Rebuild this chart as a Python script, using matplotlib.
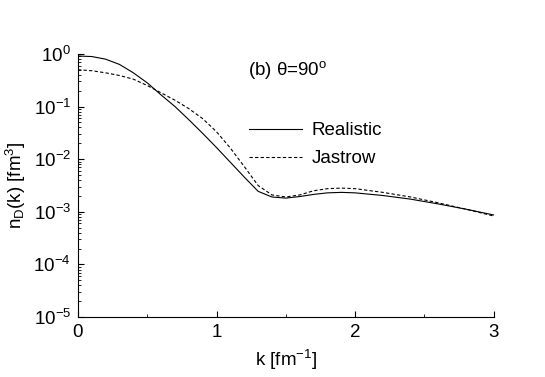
import numpy as np
import matplotlib
matplotlib.use("Agg")
import matplotlib.pyplot as plt
from matplotlib.ticker import FixedLocator, FixedFormatter, LogLocator, NullFormatter, MultipleLocator

plt.rcParams['font.family'] = ['Liberation Sans', 'DejaVu Sans']
plt.rcParams['mathtext.fontset'] = 'custom'
plt.rcParams['mathtext.rm'] = 'Liberation Sans'
plt.rcParams['mathtext.it'] = 'Liberation Sans:italic'

# --- data ---
k = [0.0, 0.1, 0.2, 0.3, 0.4, 0.5, 0.6, 0.7, 0.8, 0.9, 1.0, 1.1, 1.2, 1.3,
     1.4, 1.5, 1.6, 1.7, 1.8, 1.9, 2.0, 2.2, 2.4, 2.6, 2.8, 3.0]
realistic = [0.912, 0.891, 0.794, 0.631, 0.437, 0.282, 0.166, 0.100, 0.0562,
             0.0309, 0.0166, 0.00871, 0.00457, 0.00245, 0.00191, 0.00182,
             0.00195, 0.00214, 0.00229, 0.00234, 0.00229, 0.00204, 0.00174,
             0.00141, 0.00112, 0.00087]
jastrow = [0.501, 0.479, 0.437, 0.389, 0.331, 0.251, 0.182, 0.132, 0.0912,
           0.0589, 0.0331, 0.0162, 0.00724, 0.00316, 0.00209, 0.00191,
           0.00209, 0.00251, 0.00275, 0.00282, 0.00275, 0.00234, 0.00191,
           0.00148, 0.00112, 0.00083]

y_ticks = [1e-5, 1e-4, 1e-3, 1e-2, 1e-1, 1e0]
y_labels = ['$10^{-5}$', '$10^{-4}$', '$10^{-3}$', '$10^{-2}$', '$10^{-1}$', '$10^{0}$']
x_ticks = [0, 1, 2, 3]

fig = plt.figure(figsize=(5.45, 3.77), dpi=100)
ax = fig.add_axes([0.143, 0.159, 0.763, 0.698])

ax.plot(k, realistic, color='black', lw=0.8, label='Realistic')
ax.plot(k, jastrow, color='black', lw=0.8, dashes=(3, 2), label='Jastrow')

ax.set_yscale('log')
ax.set_xlim(0, 3)
ax.set_ylim(1e-5, 1e0)

ax.yaxis.set_major_locator(FixedLocator(y_ticks))
ax.yaxis.set_major_formatter(FixedFormatter(y_labels))
ax.yaxis.set_minor_locator(LogLocator(base=10, subs=np.arange(2, 10)))
ax.yaxis.set_minor_formatter(NullFormatter())
ax.xaxis.set_major_locator(FixedLocator(x_ticks))
ax.xaxis.set_minor_locator(MultipleLocator(0.5))

ax.tick_params(which='major', direction='in', length=4.3, width=0.8, labelsize=13.5, pad=5)
ax.tick_params(which='minor', direction='in', length=2.5, width=0.6)
ax.spines['top'].set_visible(False)
ax.spines['right'].set_visible(False)

ax.set_xlabel('k [fm$^{-1}$]', fontsize=13.5, labelpad=5)
ax.set_ylabel('n$_\\mathrm{D}$(k) [fm$^3$]', fontsize=13.5, labelpad=4)

ax.text(0.41, 0.94, '(b) θ=90$^\\mathrm{o}$', transform=ax.transAxes, fontsize=13.5,
        ha='left', va='center')

ax.legend(loc='upper left', bbox_to_anchor=(0.411, 0.74), frameon=False,
          fontsize=13.5, handlelength=2.83, handletextpad=0.53,
          labelspacing=0.56, borderpad=0, borderaxespad=0)

fig.savefig('out.png', dpi=100)
